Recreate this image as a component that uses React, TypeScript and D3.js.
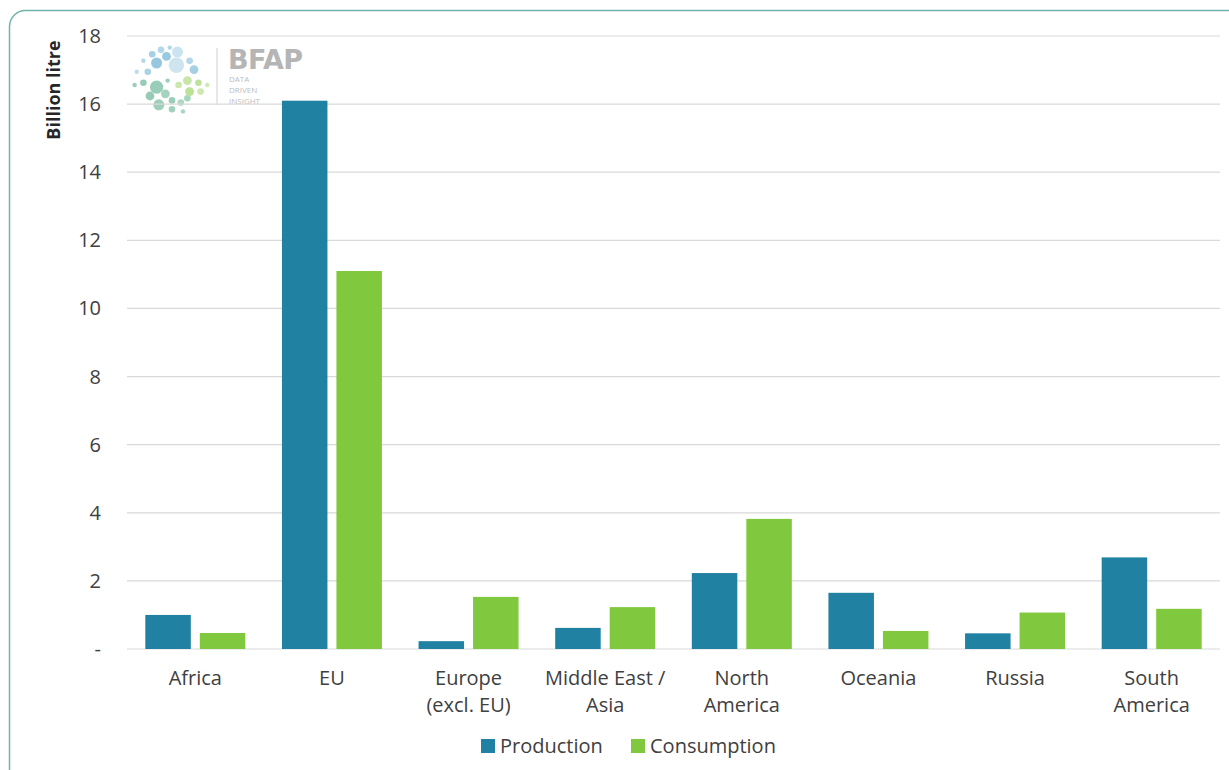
import React from "react";
import * as d3 from "d3";

const categories: string[][] = [
  ["Africa"],
  ["EU"],
  ["Europe", "(excl. EU)"],
  ["Middle East /", "Asia"],
  ["North", "America"],
  ["Oceania"],
  ["Russia"],
  ["South", "America"],
];
const production: number[] = [1.0, 16.1, 0.23, 0.62, 2.23, 1.65, 0.46, 2.69];
const consumption: number[] = [0.47, 11.1, 1.53, 1.23, 3.82, 0.53, 1.07, 1.18];
const seriesNames = ["Production", "Consumption"];
const yTicks: number[] = [0, 2, 4, 6, 8, 10, 12, 14, 16, 18];

const COLORS = ["#2181a3", "#80c83e"];
const W = 1229;
const H = 770;
const FONT = "'Open Sans', 'DejaVu Sans', sans-serif";

// decorative logo dots (relative positions/radii)
const logoDots: [number, number, number, string][] = [
  [30, 8, 3, "#a9d3e6"], [38, 6, 2, "#a9d3e6"], [45, 10, 5, "#c7e2ee"], [35, 14, 4, "#8ec4de"],
  [22, 12, 3, "#9dcbe2"], [14, 18, 2, "#a9d3e6"], [26, 20, 5, "#8cc2dc"], [44, 22, 7, "#c9e3ef"],
  [56, 18, 3, "#a9d3e6"], [60, 26, 4, "#9ccbe1"], [8, 28, 2, "#b5d9ea"], [18, 28, 3, "#a2cfe4"],
  [6, 40, 2, "#93c9b5"], [14, 38, 3, "#8fc7b0"], [26, 42, 6, "#90c8b2"], [20, 50, 4, "#8dc5ae"],
  [34, 48, 4, "#9ccfb9"], [40, 54, 3, "#91c9b3"], [28, 58, 5, "#94cab4"], [48, 56, 3, "#a4d4bd"],
  [54, 52, 3, "#9cd2b8"], [46, 40, 3, "#c5e5a6"], [54, 36, 4, "#c3e4a1"], [64, 38, 3, "#b8df93"],
  [56, 46, 4, "#b5de8c"], [66, 46, 3, "#c8e6a9"], [40, 62, 3, "#97ccb6"], [50, 64, 2, "#9fd0bb"],
  [72, 40, 2, "#c9e7ab"], [36, 36, 2, "#93c9b5"],
];

export default function App() {
  const margin = { left: 127, right: 9, top: 36, bottom: 121 };
  const plotRight = W - margin.right;
  const plotBottom = H - margin.bottom;

  const x0 = d3
    .scaleBand<number>()
    .domain(d3.range(categories.length))
    .range([margin.left, plotRight])
    .paddingInner(0.268)
    .paddingOuter(0.134);
  const x1 = d3
    .scaleBand<number>()
    .domain([0, 1])
    .range([0, x0.bandwidth()])
    .paddingInner(0.165);
  const y = d3.scaleLinear().domain([0, 18]).range([plotBottom, margin.top]);

  const series = [production, consumption];

  return (
    <svg
      width={W}
      height={H}
      style={{ position: "absolute", left: 0, top: 0, background: "#fff" }}
      fontFamily={FONT}
    >
      <rect x={9.5} y={10.5} width={W + 20} height={H + 20} rx={16} fill="#fff" stroke="#6fb3aa" strokeWidth={1.5} />

      {/* logo */}
      <g transform="translate(128,41) scale(1.1)" opacity={0.9}>
        {logoDots.map((d, i) => (
          <circle key={i} cx={d[0]} cy={d[1]} r={d[2]} fill={d[3]} />
        ))}
      </g>
      <g transform="translate(130,43)">
        <line x1={87} x2={87} y1={5} y2={62} stroke="#d0d0d0" strokeWidth={1} />
        <text x={98} y={26} fontSize={27} fontWeight={700} fill="#b5b5b5" fontFamily="'DejaVu Sans', sans-serif" letterSpacing={-0.5}>
          BFAP
        </text>
        <text x={99} y={39} fontSize={8} fill="#bcbcbc">DATA</text>
        <text x={99} y={50} fontSize={8} fill="#bcbcbc">DRIVEN</text>
        <text x={99} y={61} fontSize={8} fill="#bcbcbc">INSIGHT</text>
      </g>

      {/* grid */}
      {yTicks.map((t) => (
        <line
          key={t}
          x1={margin.left}
          x2={plotRight}
          y1={y(t)}
          y2={y(t)}
          stroke="#d9d9d9"
          strokeWidth={1.2}
        />
      ))}
      {yTicks.map((t) => (
        <text
          key={"l" + t}
          x={101}
          y={y(t)}
          dy="0.35em"
          textAnchor="end"
          fontSize={20}
          fill="#404040"
        >
          {t === 0 ? "-" : t}
        </text>
      ))}
      <text
        transform={`translate(60,90) rotate(-90)`}
        textAnchor="middle"
        fontSize={18}
        fontWeight={700}
        fill="#262626"
      >
        Billion litre
      </text>

      {/* bars */}
      {categories.map((c, i) => (
        <g key={i} transform={`translate(${x0(i)},0)`}>
          {series.map((s, j) => (
            <rect
              key={j}
              x={x1(j)}
              y={y(s[i])}
              width={x1.bandwidth()}
              height={y(0) - y(s[i])}
              fill={COLORS[j]}
            />
          ))}
        </g>
      ))}

      {/* x labels */}
      {categories.map((c, i) => (
        <text
          key={"x" + i}
          x={(x0(i) as number) + x0.bandwidth() / 2}
          y={685}
          textAnchor="middle"
          fontSize={20}
          fill="#404040"
        >
          {c.map((line, k) => (
            <tspan key={k} x={(x0(i) as number) + x0.bandwidth() / 2} dy={k === 0 ? 0 : 27}>
              {line}
            </tspan>
          ))}
        </text>
      ))}

      {/* legend */}
      {seriesNames.map((n, j) => {
        const lx = j === 0 ? 481 : 631;
        return (
          <g key={n} transform={`translate(${lx},739)`}>
            <rect x={0} y={0} width={14} height={14} fill={COLORS[j]} />
            <text x={19} y={14} fontSize={20} fill="#404040">
              {n}
            </text>
          </g>
        );
      })}
    </svg>
  );
}
